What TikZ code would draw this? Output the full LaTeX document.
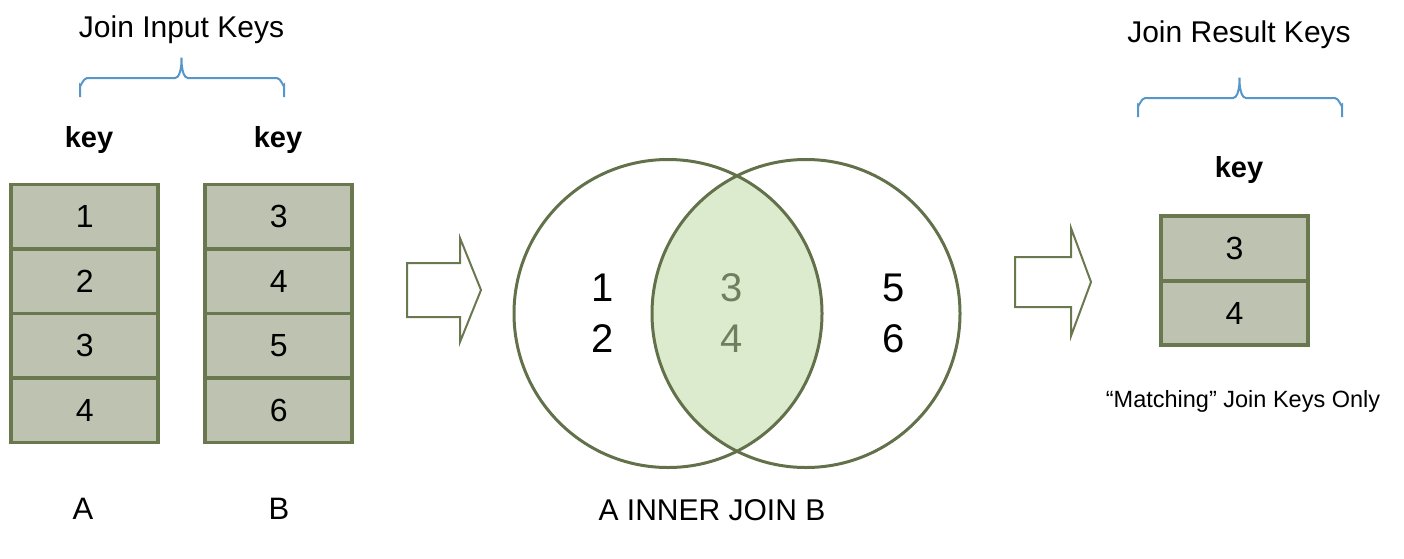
\documentclass[tikz,border=0pt]{standalone}
\usepackage{fontspec}
\setmainfont{Liberation Sans}
\usetikzlibrary{positioning}

\definecolor{keyborder}{HTML}{6A7850}
\definecolor{keyfill}{HTML}{BDC2B1}
\definecolor{vennline}{HTML}{62714A}
\definecolor{lensfill}{HTML}{DCEBCE}
\definecolor{lensdigit}{HTML}{6F7E5C}
\definecolor{bracecol}{HTML}{5596CB}

\begin{document}
\begin{tikzpicture}[x=1pt, y=-1pt,
  keycell/.style={draw=keyborder, fill=keyfill, line width=3.8pt, outer sep=0pt,
    inner sep=0pt, minimum width=147pt, minimum height=64.5pt,
    font=\fontsize{32}{32}\selectfont},
  keyhead/.style={anchor=base, font=\fontsize{29}{29}\selectfont\bfseries},
  grouptitle/.style={anchor=base, font=\fontsize{30}{30}\selectfont},
  tablename/.style={anchor=base, font=\fontsize{31}{31}\selectfont},
  venncircle/.style={circle, draw=vennline, line width=3pt, minimum size=308pt,
    inner sep=0pt, outer sep=0pt},
  venndigit/.style={font=\fontsize{40}{40}\selectfont},
  blockarrow/.style={draw=keyborder, line width=2pt, line join=miter},
  bracepath/.style={draw=bracecol, line width=2pt}]
  \useasboundingbox (0,0) rectangle (1404,558);

  % input keys
  \node[grouptitle] (inTitle) at (181.5,37) {Join Input Keys};
  \draw[bracepath] (80,97) -- (80,85) to[out=-90,in=180] (87,78) -- (175,78)
    to[out=0,in=90] (181.5,59) to[out=90,in=180] (188,78) -- (277,78)
    to[out=0,in=-90] (284,85) -- (284,97);
  \node[keyhead] (keyA) at (89,147) {key};
  \node[keyhead] (keyB) at (278,147) {key};

  \node[keycell] (a1) at (84.7,216.7) {1};
  \node[keycell, below=0pt of a1] (a2) {2};
  \node[keycell, below=0pt of a2] (a3) {3};
  \node[keycell, below=0pt of a3] (a4) {4};

  \node[keycell] (b1) at (278.7,216.7) {3};
  \node[keycell, below=0pt of b1] (b2) {4};
  \node[keycell, below=0pt of b2] (b3) {5};
  \node[keycell, below=0pt of b3] (b4) {6};

  \node[tablename] (nameA) at (83,519) {A};
  \node[tablename] (nameB) at (279,519) {B};

  \draw[blockarrow] (407,263) -- (460,263) -- (460,238) -- (481,290)
    -- (460,342) -- (460,317) -- (407,317) -- cycle;

  % venn diagram
  \begin{scope}
    \clip (668,313.5) circle (154pt);
    \fill[lensfill] (806,313.5) circle (154pt);
  \end{scope}
  \node[venncircle] (setA) at (668,313.5) {};
  \node[venncircle] (setB) at (806,313.5) {};

  \node[venndigit] (onlyA1) at (603,288) {1};
  \node[venndigit] (onlyA2) at (603,338.5) {2};
  \node[venndigit, text=lensdigit] (both1) at (732,288) {3};
  \node[venndigit, text=lensdigit] (both2) at (732,338.5) {4};
  \node[venndigit] (onlyB1) at (894,288) {5};
  \node[venndigit] (onlyB2) at (894,338.5) {6};

  \node[grouptitle] (joinName) at (712,520) {A INNER JOIN B};

  \draw[blockarrow] (1015,257) -- (1071,257) -- (1071,228) -- (1091,282)
    -- (1071,336) -- (1071,307) -- (1015,307) -- cycle;

  % result keys
  \node[grouptitle] (outTitle) at (1239,42) {Join Result Keys};
  \draw[bracepath] (1138,117) -- (1138,105) to[out=-90,in=180] (1145,98) -- (1233,98)
    to[out=0,in=90] (1239.5,79) to[out=90,in=180] (1246,98) -- (1335,98)
    to[out=0,in=-90] (1342,105) -- (1342,117);
  \node[keyhead] (keyR) at (1239,177) {key};

  \node[keycell] (r1) at (1234.5,248.5) {3};
  \node[keycell, below=0pt of r1] (r2) {4};

  \node[anchor=base, font=\fontsize{23.5}{23.5}\selectfont] (matchNote) at (1243,407)
    {“Matching” Join Keys Only};
\end{tikzpicture}
\end{document}
